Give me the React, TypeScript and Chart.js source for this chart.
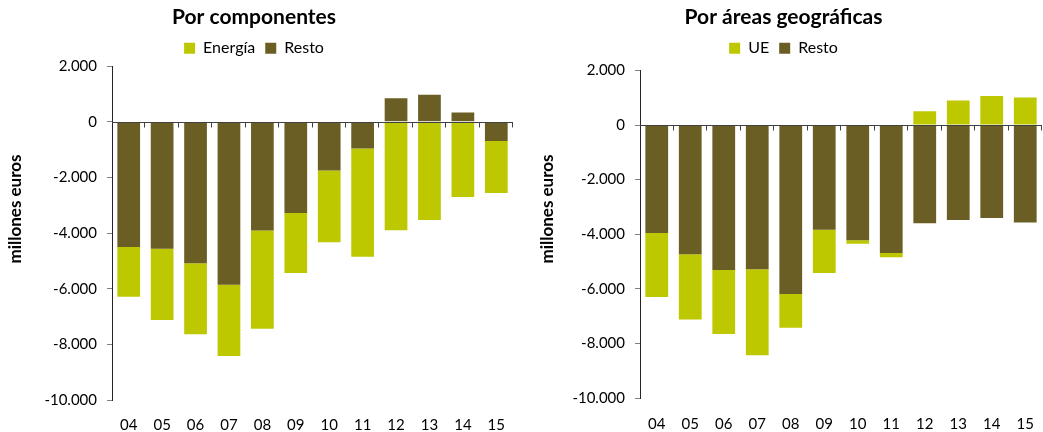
import React, { useEffect, useRef } from "react";
import { Chart, registerables } from "chart.js";

Chart.register(...registerables);

// ---------- data ----------
const years = ["04", "05", "06", "07", "08", "09", "10", "11", "12", "13", "14", "15"];

const compTitle = "Por componentes";
const compGreenLabel = "Energía";
const compResto = [-4500, -4560, -5080, -5860, -3910, -3280, -1750, -960, 850, 975, 340, -690];
const compEnergia = [-1790, -2560, -2560, -2560, -3530, -2150, -2580, -3890, -3900, -3530, -2700, -1865];

const geoTitle = "Por áreas geográficas";
const geoGreenLabel = "UE";
const geoResto = [-3960, -4730, -5310, -5280, -6190, -3840, -4220, -4690, -3600, -3480, -3410, -3570];
const geoUE = [-2340, -2390, -2350, -3150, -1240, -1580, -130, -150, 500, 895, 1065, 1005];

const restoLabel = "Resto";
const yAxisTitle = "millones euros";
const yMin = -10000;
const yMax = 2000;
const yStep = 2000;

// ---------- style ----------
const GREEN = "#BDC800";
const BROWN = "#6B5E25";
const FONT = "Lato";

function fmt(v: number): string {
  const s = Math.abs(Math.round(v)).toString().replace(/\B(?=(\d{3})+(?!\d))/g, ".");
  return (v < 0 ? "-" : "") + s;
}

type Layout = {
  width: number;
  yWidth: number;
  padRight: number;
  xHeight: number;
  xPad: number;
  titleX: number;
  titleY: number;
  titlePadTop: number;
  titlePadBottom: number;
  legendPad: number;
  gapBelowLegend: number;
};

function makePlugin(l: Layout) {
  return {
    id: "zeroAxisAndTitle",
    afterDatasetsDraw(chart: any) {
      const { ctx, chartArea, scales } = chart;
      const x = scales.x;
      const y = scales.y;
      const y0 = Math.round(y.getPixelForValue(0)) + 0.5;
      ctx.save();
      ctx.strokeStyle = "#404040";
      ctx.lineWidth = 1;
      ctx.beginPath();
      ctx.moveTo(chartArea.left, y0);
      ctx.lineTo(chartArea.right, y0);
      for (let i = 0; i < years.length; i++) {
        const px = Math.round(x.getPixelForValue(i + 0.5)) - 0.5;
        ctx.moveTo(px, y0);
        ctx.lineTo(px, y0 + 5);
      }
      ctx.stroke();
      ctx.restore();
    },
    afterDraw(chart: any) {
      const { ctx } = chart;
      ctx.save();
      ctx.translate(l.titleX, l.titleY);
      ctx.rotate(-Math.PI / 2);
      ctx.font = `bold 17px ${FONT}`;
      ctx.fillStyle = "#000";
      ctx.textAlign = "center";
      ctx.textBaseline = "middle";
      ctx.fillText(yAxisTitle, 0, 0);
      ctx.restore();
    },
  };
}

function makeConfig(title: string, greenLabel: string, green: number[], resto: number[], l: Layout): any {
  const tickFont = { family: FONT, size: 15 };
  return {
    type: "bar",
    data: {
      labels: years,
      datasets: [
        { label: restoLabel, data: resto, backgroundColor: BROWN, borderWidth: 0 },
        { label: greenLabel, data: green, backgroundColor: GREEN, borderWidth: 0 },
      ],
    },
    plugins: [makePlugin(l)],
    options: {
      animation: false,
      responsive: false,
      categoryPercentage: 1,
      barPercentage: 0.68,
      layout: { padding: { left: 0, right: l.padRight, top: 0, bottom: 0 } },
      plugins: {
        title: {
          display: true,
          text: title,
          color: "#000",
          font: { family: FONT, size: 21, weight: "bold" },
          padding: { top: l.titlePadTop, bottom: l.titlePadBottom },
        },
        subtitle: {
          display: l.gapBelowLegend > 0,
          text: " ",
          weight: 500,
          font: { family: FONT, size: 1 },
          padding: { top: l.gapBelowLegend, bottom: 0 },
        },
        legend: {
          display: true,
          reverse: true,
          labels: {
            boxWidth: 11,
            boxHeight: 11,
            color: "#000",
            font: { family: FONT, size: 16 },
            padding: l.legendPad,
          },
        },
        tooltip: { enabled: false },
      },
      scales: {
        x: {
          stacked: true,
          grid: { display: false, drawTicks: true, tickLength: l.xPad },
          border: { display: false },
          ticks: { font: tickFont, color: "#000", padding: 0 },
          afterFit: (s: any) => {
            s.height = l.xHeight;
            s.paddingLeft = 0;
            s.paddingRight = 0;
          },
        },
        y: {
          stacked: true,
          min: yMin,
          max: yMax,
          ticks: {
            stepSize: yStep,
            font: tickFont,
            color: "#000",
            padding: 10,
            callback: (v: any) => fmt(Number(v)),
          },
          grid: { drawOnChartArea: false, drawTicks: true, tickLength: 5, color: "#7f7f7f" },
          border: { display: true, color: "#262626" },
          afterFit: (s: any) => {
            s.width = l.yWidth;
          },
        },
      },
    },
  };
}

function BarPanel(props: {
  left: number;
  title: string;
  greenLabel: string;
  green: number[];
  resto: number[];
  layout: Layout;
}) {
  const ref = useRef<HTMLCanvasElement | null>(null);
  useEffect(() => {
    if (!ref.current) return;
    const chart = new Chart(
      ref.current,
      makeConfig(props.title, props.greenLabel, props.green, props.resto, props.layout)
    );
    return () => chart.destroy();
  }, []);
  return (
    <div style={{ position: "absolute", left: props.left, top: 0, width: props.layout.width, height: 432 }}>
      <canvas ref={ref} width={props.layout.width} height={432} style={{ display: "block" }} />
    </div>
  );
}

const leftLayout: Layout = {
  width: 520,
  yWidth: 117,
  padRight: 2,
  xHeight: 32,
  xPad: 16,
  titleX: 21,
  titleY: 209,
  titlePadTop: 5,
  titlePadBottom: 0,
  legendPad: 10,
  gapBelowLegend: 0,
};

const rightLayout: Layout = {
  width: 518,
  yWidth: 115,
  padRight: 1,
  xHeight: 34,
  xPad: 17,
  titleX: 23,
  titleY: 209,
  titlePadTop: 5,
  titlePadBottom: 0,
  legendPad: 10,
  gapBelowLegend: 3,
};

export default function App() {
  return (
    <div style={{ position: "fixed", left: 0, top: 0, width: 1043, height: 432, background: "#fff", overflow: "hidden" }}>
      <BarPanel left={-5} title={compTitle} greenLabel={compGreenLabel} green={compEnergia} resto={compResto} layout={leftLayout} />
      <BarPanel left={525} title={geoTitle} greenLabel={geoGreenLabel} green={geoUE} resto={geoResto} layout={rightLayout} />
    </div>
  );
}
